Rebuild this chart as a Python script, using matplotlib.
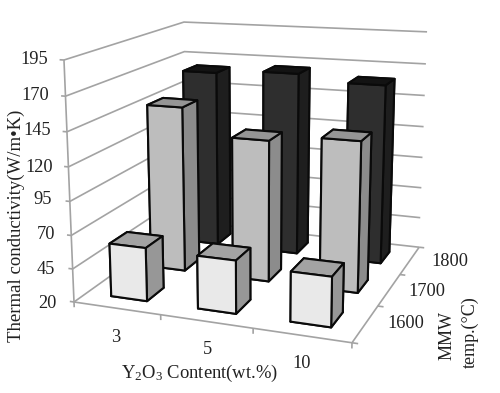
import numpy as np
import matplotlib
matplotlib.use("Agg")
import matplotlib.pyplot as plt

# ---- data ----
contents = ["3", "5", "10"]
temps = ["1600", "1700", "1800"]
z_ticks = [20, 45, 70, 95, 120, 145, 170, 195]
k_1600 = [60, 59, 56]
k_1700 = [148, 128, 133]
k_1800 = [162.5, 165.5, 160.5]

W, H = 500, 393
BAR_W = 0.42
BAR_D = 0.42

# camera: image of the chart origin, of three box corners and the vanishing points
ORIGIN = np.array([74.0, 302.0])
CORNER_X = np.array([352.0, 340.0])   # (3, 0, 20)
CORNER_Y = np.array([187.0, 226.0])   # (0, 3, 20)
CORNER_Z = np.array([64.0, 60.0])     # (0, 0, 195)
VP_X = np.array([-2600.0, -90.0])
VP_Y = np.array([690.0, -138.0])
VP_Z = np.array([256.0, 4700.0])

def make_projection(view_x, view_y):
    a = (CORNER_X[0] - ORIGIN[0]) / (3 * (VP_X[0] - CORNER_X[0]))
    b = (CORNER_Y[0] - ORIGIN[0]) / (3 * (VP_Y[0] - CORNER_Y[0]))
    c = (CORNER_Z[1] - ORIGIN[1]) / (175 * (VP_Z[1] - CORNER_Z[1]))
    P = np.array([
        [a * VP_X[0], b * VP_Y[0], c * VP_Z[0], ORIGIN[0]],
        [a * VP_X[1], b * VP_Y[1], c * VP_Z[1], ORIGIN[1]],
        [a, b, c, 1.0],
    ])
    P[:, 3] -= 20 * P[:, 2]
    sx = (view_x[1] - view_x[0]) / W
    sy = (view_y[1] - view_y[0]) / W
    top = (H - W) / 2  # pixel row of the top of the square axes
    r0 = view_x[0] * P[2] + sx * P[0]
    r1 = view_y[1] * P[2] - sy * (P[1] - top * P[2])
    r2 = P[2].copy()
    r2[3] -= 2.0
    return np.vstack([r0, r1, r2, P[2]])

plt.rcParams["font.family"] = ["Liberation Serif", "DejaVu Serif"]
plt.rcParams["mathtext.fontset"] = "custom"
plt.rcParams["mathtext.rm"] = "Liberation Serif"
plt.rcParams["mathtext.default"] = "rm"

fig = plt.figure(figsize=(W / 100, H / 100), dpi=100)
ax = fig.add_axes([0, (H - W) / 2 / H, 1, W / H], projection="3d")
M = make_projection(tuple(ax.viewLim.intervalx), tuple(ax.viewLim.intervaly))
ax.get_proj = lambda: M
ax.set_axis_off()
ax.computed_zorder = False

GRID = "#a3a3a3"
line = dict(color=GRID, lw=1.2, zorder=1, solid_capstyle="butt")
n = len(contents)
for z in z_ticks:
    ax.plot([0, 0, n], [0, n, n], [z, z, z], **line)
    ax.plot([-0.05, 0], [0, 0], [z, z], **line)
ax.plot([0, 0], [0, 0], [z_ticks[0], z_ticks[-1]], **line)
ax.plot([0, n, n], [0, 0, n], [20, 20, 20], **line)
for i in range(n + 1):
    ax.plot([i, i], [0, 0], [20, 16], **line)
    ax.plot([n, n + 0.06], [i, i], [20, 20], **line)

styles = {  # -z, +z, -y(front), +y, -x, +x(side)
    2: ["#111111", "#131313", "#2e2e2e", "#1e1e1e", "#1e1e1e", "#1e1e1e"],
    1: ["#999999", "#959595", "#bdbdbd", "#8c8c8c", "#8c8c8c", "#8c8c8c"],
    0: ["#999999", "#a3a3a3", "#e9e9e9", "#9a9a9a", "#9a9a9a", "#979797"],
}
series = [k_1600, k_1700, k_1800]
order = 2
for row in (2, 1, 0):
    for col in range(n):
        c = ax.bar3d(col + 0.5 - BAR_W / 2, row + 0.5 - BAR_D / 2, 20,
                     BAR_W, BAR_D, series[row][col] - 20,
                     color=styles[row], shade=False,
                     edgecolor="#0a0a0a", linewidth=1.5)
        c.set_zorder(order)
        order += 1

def label(px, py, s, **kw):
    kw.setdefault("ha", "center")
    kw.setdefault("va", "center")
    kw.setdefault("fontsize", 13.2)
    kw.setdefault("color", "#222222")
    fig.text(px / W, 1 - py / H, s, **kw)

z_lab_x = [57, 55, 55, 52, 53, 51, 49, 48]
z_lab_y = [303, 269, 235, 200, 167, 131, 96, 60]
for t, x, y in zip(z_ticks, z_lab_x, z_lab_y):
    label(x, y, str(t), ha="right")
for s, x, y in zip(contents, [116, 207, 302], [337, 349, 363]):
    label(x, y, s)
for s, x, y in zip(temps, [406, 427, 450], [323, 291, 262]):
    label(x, y, s)
label(16, 226, "Thermal conductivity(W/m\u2022K)", rotation=90, fontsize=13.5)
label(200, 373, "Y$_2$O$_3$ Content(wt.%)", fontsize=13.4)
label(447, 335, "MMW", rotation=90, fontsize=13)
label(470, 332, "temp.(\u00b0C)", rotation=90, fontsize=13)

fig.savefig("out.png", dpi=100)
